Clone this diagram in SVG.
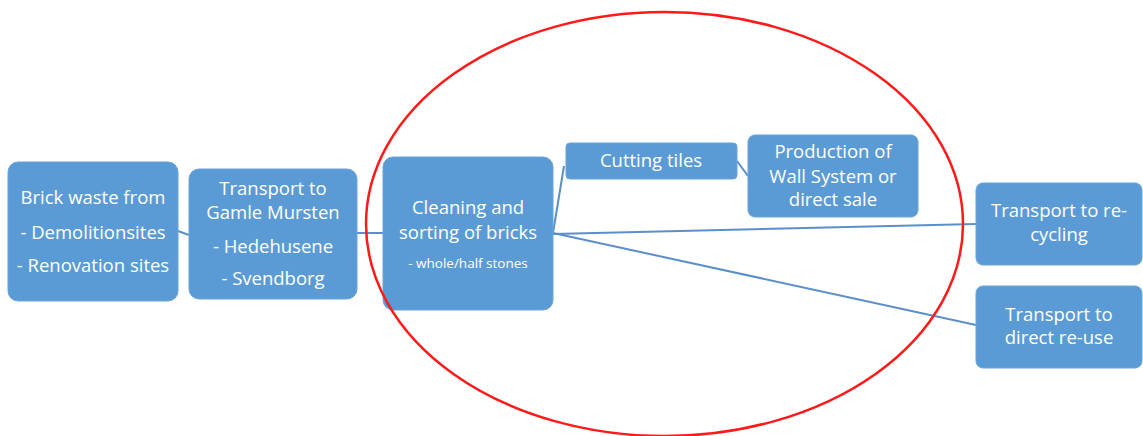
<svg xmlns="http://www.w3.org/2000/svg" width="1143" height="436" viewBox="0 0 1143 436">
<style>
.box{fill:#5b9bd5;stroke:#6aa4da;stroke-width:1}
.t{font-family:"Open Sans","Noto Sans",sans-serif;font-size:18.5px;fill:#ffffff;text-anchor:middle}
.s{font-size:13.5px}
.c{stroke:#5b8fc9;stroke-width:2;fill:none}
</style>
<rect width="1143" height="436" fill="#ffffff"/>
<g id="connectors">
<line class="c" x1="178" y1="231" x2="189" y2="235"/>
<line class="c" x1="357" y1="233" x2="383" y2="233"/>
<line class="c" x1="553" y1="233" x2="564" y2="166"/>
<line class="c" x1="737" y1="161" x2="748" y2="176"/>
<line class="c" x1="553" y1="234" x2="976" y2="224"/>
<line class="c" x1="553" y1="233" x2="976" y2="325"/>
</g>
<g id="n1"><rect class="box" x="8" y="162" width="170" height="139" rx="10"/>
<text class="t" x="93" y="204">Brick waste from</text>
<text class="t" x="93" y="239">- Demolitionsites</text>
<text class="t" x="93" y="272">- Renovation sites</text></g>
<g id="n2"><rect class="box" x="189" y="169" width="168" height="130" rx="10"/>
<text class="t" x="273" y="195">Transport to</text>
<text class="t" x="273" y="219">Gamle Mursten</text>
<text class="t" x="273" y="253">- Hedehusene</text>
<text class="t" x="273" y="285">- Svendborg</text></g>
<g id="n3"><rect class="box" x="383" y="157" width="170" height="153" rx="10"/>
<text class="t" x="468" y="214">Cleaning and</text>
<text class="t" x="468" y="239">sorting of bricks</text>
<text class="t s" x="468" y="268">- whole/half stones</text></g>
<g id="n4"><rect class="box" x="566" y="143" width="171" height="36" rx="4"/>
<text class="t" x="651" y="167">Cutting tiles</text></g>
<g id="n5"><rect class="box" x="748" y="135" width="170" height="82" rx="7"/>
<text class="t" x="833" y="158">Production of</text>
<text class="t" x="833" y="183">Wall System or</text>
<text class="t" x="833" y="206">direct sale</text></g>
<g id="n6"><rect class="box" x="976" y="183" width="166" height="82" rx="7"/>
<text class="t" x="1059" y="217">Transport to re-</text>
<text class="t" x="1059" y="241">cycling</text></g>
<g id="n7"><rect class="box" x="976" y="286" width="166" height="82" rx="7"/>
<text class="t" x="1059" y="321">Transport to</text>
<text class="t" x="1059" y="344">direct re-use</text></g>
<g id="highlight"><ellipse cx="664.5" cy="224" rx="298.5" ry="212" fill="none" stroke="#ff1a1a" stroke-width="2.5"/></g>
</svg>
